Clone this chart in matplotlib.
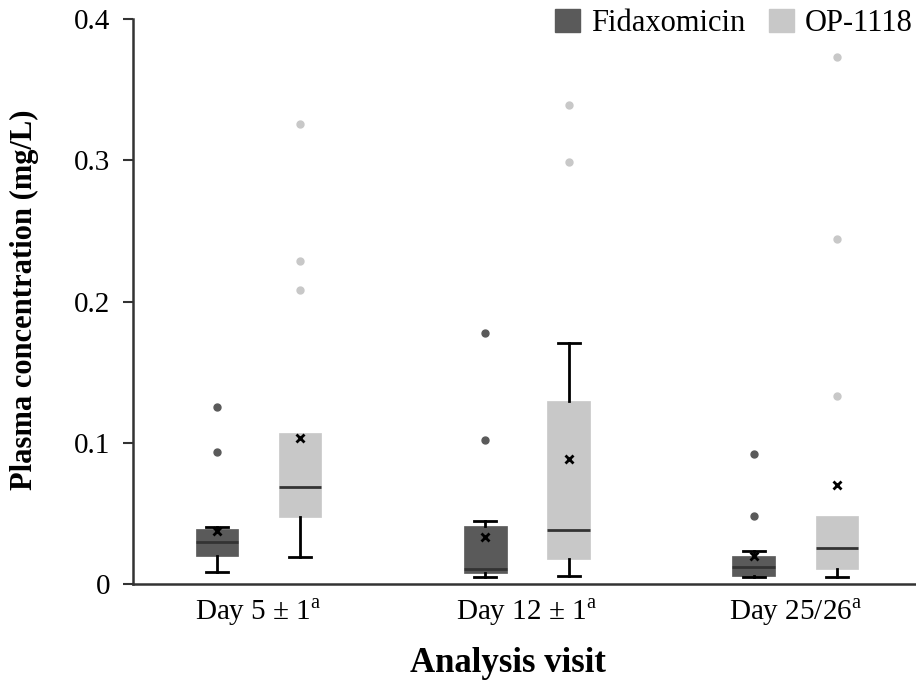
import matplotlib
matplotlib.use("Agg")
import matplotlib.pyplot as plt
from matplotlib.patches import Patch

plt.rcParams['font.family'] = ['Liberation Serif', 'DejaVu Serif']
plt.rcParams['mathtext.fontset'] = 'custom'
plt.rcParams['mathtext.rm'] = 'Liberation Serif'

# data (mg/L)
visits = ["Day 5 ± 1$^{\\mathrm{a}}$", "Day 12 ± 1$^{\\mathrm{a}}$", "Day 25/26$^{\\mathrm{a}}$"]
groups = ["Fidaxomicin", "OP-1118"]
colors = ["#5a5a5a", "#c8c8c8"]

# per visit: [whislo, q1, median, q3, whishi]
fidax_box = [[0.0085, 0.0198, 0.0297, 0.0389, 0.0403],
             [0.0050, 0.0078, 0.0106, 0.0410, 0.0445],
             [0.0050, 0.0057, 0.0120, 0.0198, 0.0233]]
fidax_mean = [0.0375, 0.0332, 0.0198]
fidax_out = [[0.125, 0.0933], [0.1018, 0.1774], [0.048, 0.0919]]

op_box = [[0.0191, 0.0473, 0.0686, 0.1067, 0.1067],
          [0.0057, 0.0177, 0.0382, 0.1293, 0.1703],
          [0.0050, 0.0106, 0.0254, 0.0480, 0.0480]]
op_mean = [0.1032, 0.0883, 0.070]
op_out = [[0.326, 0.229, 0.2085], [0.339, 0.299], [0.133, 0.2443, 0.373]]


def make_stats(boxes, means, outs):
    stats = []
    for b, m, o in zip(boxes, means, outs):
        stats.append(dict(whislo=b[0], q1=b[1], med=b[2], q3=b[3],
                          whishi=b[4], mean=m, fliers=o))
    return stats


fig = plt.figure(figsize=(9.16, 6.81), dpi=100)
ax = fig.add_axes([0.1452, 0.1424, 0.8548, 0.8296])

offset = 0.155
centers = [1, 2, 3]
all_stats = [make_stats(fidax_box, fidax_mean, fidax_out),
             make_stats(op_box, op_mean, op_out)]

for i, (st, col) in enumerate(zip(all_stats, colors)):
    pos = [c + (i - 0.5) * 2 * offset for c in centers]
    parts = ax.bxp(st, positions=pos, widths=0.158, patch_artist=True,
                   showmeans=True, showfliers=True, capwidths=0.082,
                   boxprops=dict(facecolor=col, edgecolor=col, linewidth=0.5),
                   medianprops=dict(color="#333333", linewidth=2),
                   whiskerprops=dict(color="black", linewidth=2),
                   capprops=dict(color="black", linewidth=2),
                   meanprops=dict(marker="x", markeredgecolor="black",
                                  markersize=6, markeredgewidth=2),
                   flierprops=dict(marker="o", markerfacecolor=col,
                                   markeredgecolor=col, markersize=5))
    # no upper whisker when it ends at the box top
    for k, s in enumerate(st):
        if s["whishi"] <= s["q3"]:
            parts["caps"][2 * k + 1].set_visible(False)

ax.set_xlim(0.532, 3.45)
ax.set_ylim(0, 0.4)
ax.set_xticks(centers)
ax.set_xticklabels(visits, fontsize=21)
ax.tick_params(axis='x', length=0, pad=9)
ax.set_yticks([0, 0.1, 0.2, 0.3, 0.4])
ax.set_yticklabels(["0", "0.1", "0.2", "0.3", "0.4"], fontsize=21)
ax.tick_params(axis='y', length=7.2, width=1.5, color="#333333", pad=9)

for s in ["top", "right"]:
    ax.spines[s].set_visible(False)
for s in ["left", "bottom"]:
    ax.spines[s].set_color("#333333")
    ax.spines[s].set_linewidth(1.8)

fig.text(24 / 916, 0.5595, "Plasma concentration (mg/L)", fontsize=22,
         fontweight="bold", rotation=90, ha="center", va="center")
fig.text(508 / 916, 0.0264, "Analysis visit", fontsize=25,
         fontweight="bold", ha="center", va="center")

handles = [Patch(facecolor=c, edgecolor=c) for c in colors]
fig.legend(handles, groups, loc="center right", bbox_to_anchor=(0.996, 0.966),
           bbox_transform=fig.transFigure, ncol=2, frameon=False, fontsize=22,
           handlelength=0.8, handleheight=0.8, handletextpad=0.35,
           columnspacing=0.8, borderaxespad=0, borderpad=0)

fig.savefig("out.png", dpi=100)
